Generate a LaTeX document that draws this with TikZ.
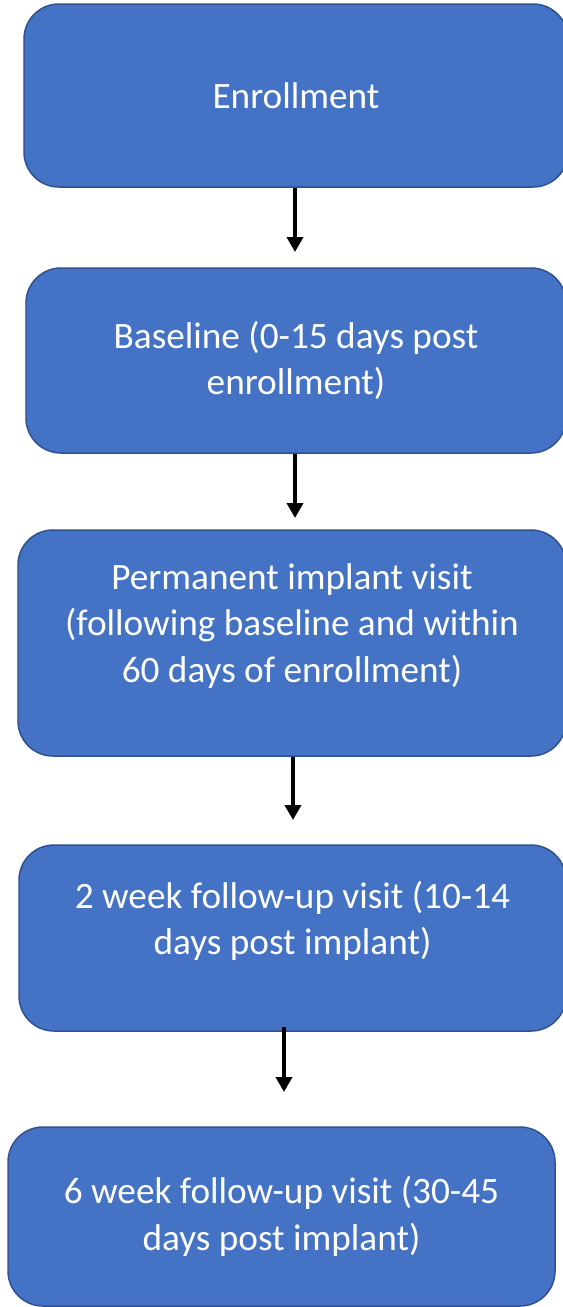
\documentclass[tikz,border=0pt]{standalone}
\usepackage{fontspec}
\setmainfont{Carlito}
\usepackage{xcolor}
\usepackage{tikz}
\usetikzlibrary{arrows.meta}

\definecolor{boxblue}{HTML}{4472C4}
\definecolor{boxedge}{HTML}{2F528F}

\begin{document}
\begin{tikzpicture}[
    visitbox/.style={draw=boxedge, line width=0.85pt, fill=boxblue, rounded corners=0.7cm,
        text=white, align=center, inner sep=0pt,
        font=\fontsize{21.2pt}{26.4pt}\selectfont},
    raisedtext/.style={text depth=0.8cm},
    flowarrow/.style={line width=2.1pt, -{Triangle[width=0.32cm,length=0.3cm]}}
]
    \useasboundingbox (0,0) rectangle (11.26,-26.14);
    % Visits
    \node[visitbox, minimum width=10.88cm, minimum height=3.66cm] (enroll) at (5.92,-1.91) {Enrollment};
    \node[visitbox, minimum width=10.80cm, minimum height=3.70cm] (baseline) at (5.92,-7.21) {Baseline (0-15 days post\\enrollment)};
    \node[visitbox, raisedtext, minimum width=10.96cm, minimum height=4.52cm] (implant) at (5.84,-12.86) {Permanent implant visit\\(following baseline and within\\60 days of enrollment)};
    \node[visitbox, raisedtext, minimum width=10.94cm, minimum height=3.72cm] (twoweek) at (5.85,-18.76) {2 week follow-up visit (10-14\\days post implant)};
    \node[visitbox, minimum width=10.94cm, minimum height=3.58cm] (sixweek) at (5.63,-24.33) {6 week follow-up visit (30-45\\days post implant)};
    % Arrow tips
    \coordinate (tip1) at (5.90,-5.04);
    \coordinate (tip2) at (5.90,-10.36);
    \coordinate (tip3) at (5.86,-16.40);
    \coordinate (tip4) at (5.68,-21.84);
    % Arrows
    \draw[flowarrow] (enroll.south -| tip1) -- (tip1);
    \draw[flowarrow] (baseline.south -| tip2) -- (tip2);
    \draw[flowarrow] (implant.south -| tip3) -- (tip3);
    \draw[flowarrow] ([yshift=0.1cm]twoweek.south -| tip4) -- (tip4);
\end{tikzpicture}
\end{document}
